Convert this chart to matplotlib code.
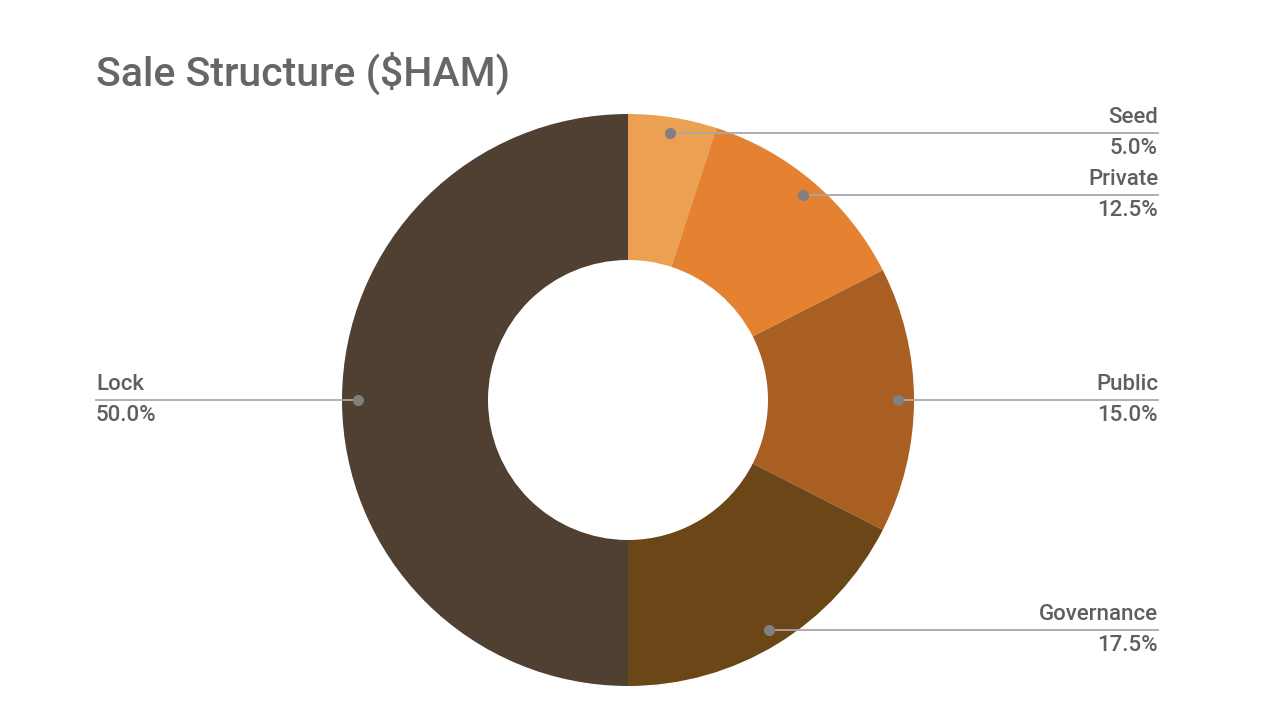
import numpy as np
import matplotlib.pyplot as plt

labels = ["Seed", "Private", "Public", "Governance", "Lock"]
shares = [5.0, 12.5, 15.0, 17.5, 50.0]
colors = ["#eca052", "#e58232", "#a95f22", "#6b4617", "#4f4032"]

TEXT = "#5f5f5f"
LINE = "#a8a8a8"

plt.rcParams["font.family"] = ["Roboto", "DejaVu Sans"]

fig = plt.figure(figsize=(12.8, 7.2), dpi=100)
# axes in pixel units, y up
ax = fig.add_axes([0, 0, 1, 1])

cx, cy, r_out, r_in = 628, 320, 286, 140

wedges, _ = ax.pie(shares, colors=colors, startangle=90, counterclock=False,
                   radius=r_out, center=(cx, cy), frame=True,
                   wedgeprops=dict(width=r_out - r_in, linewidth=0))
ax.set_xlim(0, 1280)
ax.set_ylim(0, 720)
ax.set_aspect("equal")
ax.axis("off")

# ===== callouts =====
r_dot = 270
for w, lab, val in zip(wedges, labels, shares):
    mid = np.deg2rad((w.theta1 + w.theta2) / 2)
    dx = cx + r_dot * np.cos(mid)
    dy = cy + r_dot * np.sin(mid)
    if np.cos(mid) >= 0:
        x_end, ha = 1158, "right"
    else:
        x_end, ha = 96, "left"
    ax.plot([dx, x_end], [dy, dy], color=LINE, lw=1.3, zorder=3)
    ax.plot(dx, dy, "o", color="#808080", ms=7, zorder=4)
    ax.text(x_end, dy + 5, lab, ha=ha, va="bottom", fontsize=16,
            fontweight="medium", color=TEXT)
    ax.text(x_end, dy - 5, f"{val:.1f}%", ha=ha, va="top", fontsize=16,
            fontweight="medium", color=TEXT)

fig.text(96 / 1280, 1 - 86 / 720, "Sale Structure ($HAM)", fontsize=29.5,
         fontweight="medium", color="#666666", ha="left", va="baseline")

fig.savefig("out.png", dpi=100, facecolor="white")
